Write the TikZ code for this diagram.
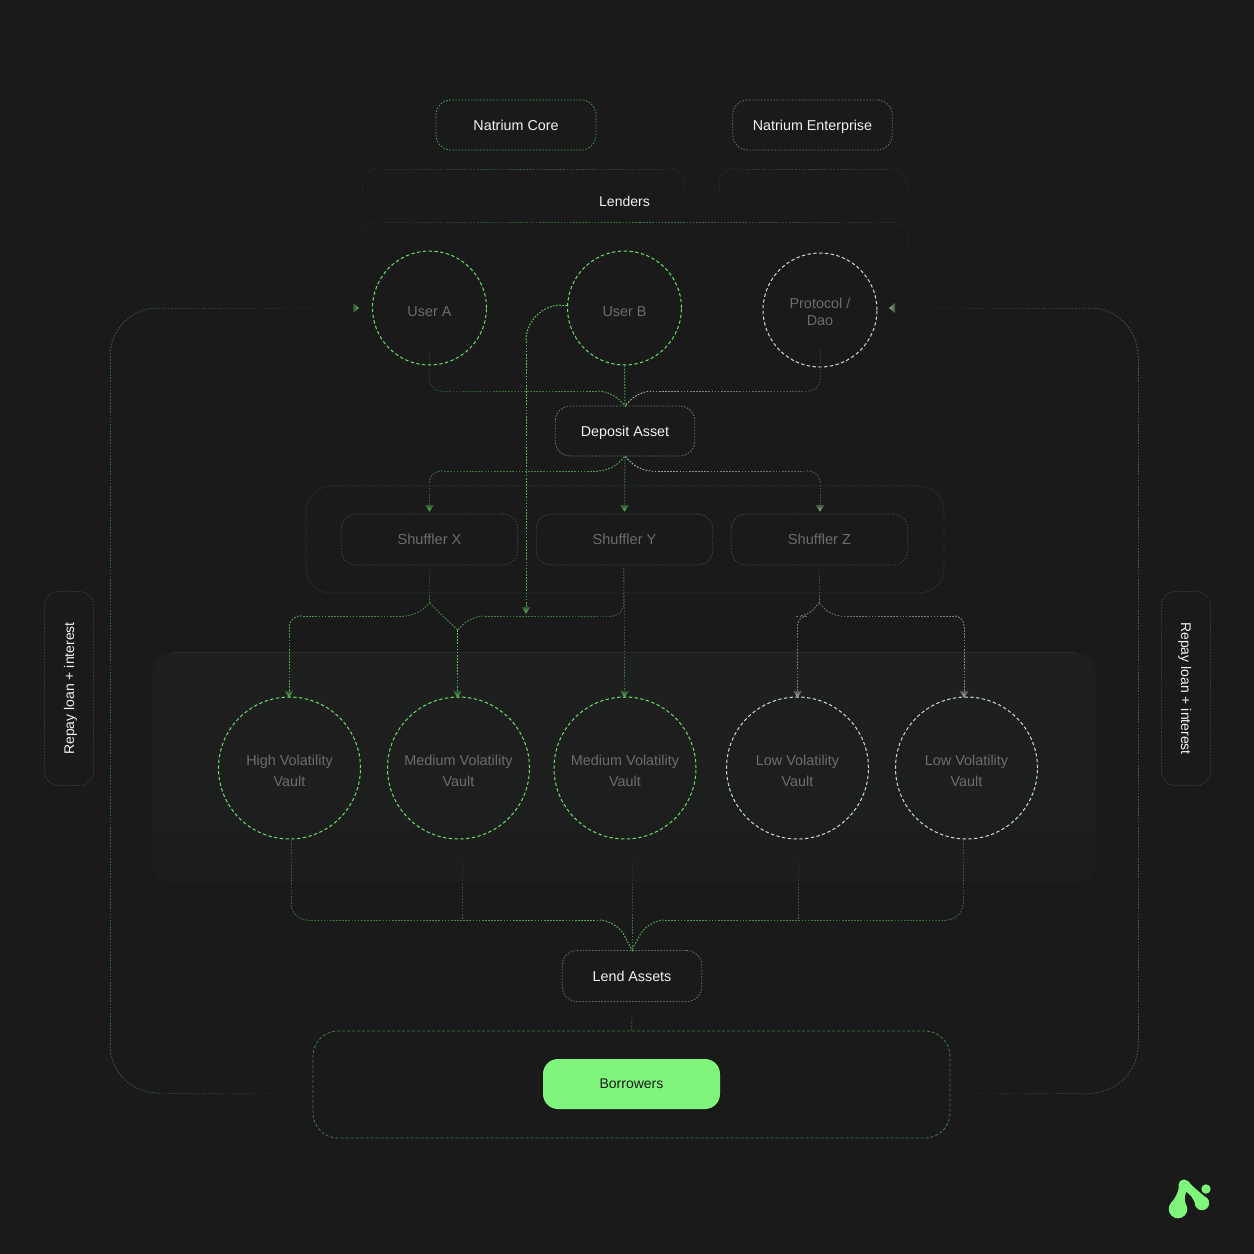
\documentclass[tikz,border=0pt]{standalone}
\usepackage{fontspec}
\setmainfont{Liberation Sans}
\usetikzlibrary{decorations.markings}
\definecolor{bgc}{HTML}{1A1A1B}
\definecolor{panelc}{HTML}{1E1F1F}
\definecolor{panelb}{HTML}{1D1D1E}
\definecolor{gr}{HTML}{66E068}
\definecolor{wh}{HTML}{D2D8D2}
\definecolor{mint}{HTML}{7FF57C}
\definecolor{titlec}{HTML}{F2F2F2}
\definecolor{dimt}{HTML}{6C6C6C}
\newcommand\lwr{\rule{0pt}{17pt}}
\tikzset{
 fc/.style n args={3}{postaction={decorate,decoration={markings,
   mark=between positions 0 and 1 step 3.1pt with {
     \pgfmathsetmacro\fcp{#1+(#2-#1)*(\pgfkeysvalueof{/pgf/decoration/mark info/distance from start}/\pgfdecoratedpathlength)}
     \draw[draw=#3!\fcp!bgc,line width=1pt] (0,0)--(1.7pt,0);}}}},
 boxbase/.style={rectangle,rounded corners=15pt,minimum height=50pt,inner sep=0pt,line width=.85pt,dash pattern=on 1.6pt off 1.5pt},
 titlebox/.style={boxbase,text=titlec,font=\fontsize{14.3}{17}\selectfont,text height=12pt,text depth=2pt},
 shufbox/.style={boxbase,draw=gr!13!bgc!90!white,minimum width=176.5pt,minimum height=51pt,text=dimt,font=\fontsize{14.6}{17}\selectfont,text height=12pt,text depth=2pt},
 circbase/.style={circle,inner sep=0pt,line width=1pt,dash pattern=on 3.4pt off 2.4pt,text=dimt,align=center,font=\fontsize{14.4}{17}\selectfont},
 usergr/.style={circbase,draw=gr,minimum size=114pt},
 userwh/.style={circbase,draw=wh,minimum size=114pt},
 vaultgr/.style={circbase,draw=gr,minimum size=142pt,font=\fontsize{14.4}{21}\selectfont},
 vaultwh/.style={circbase,draw=wh,minimum size=142pt,font=\fontsize{14.4}{21}\selectfont},
 repaybox/.style={boxbase,draw=gr!10!bgc!92!white,minimum width=194pt,minimum height=49pt,rounded corners=14pt,text=titlec,font=\fontsize{14}{17}\selectfont,text height=12pt,text depth=2pt},
 groupbox/.style={rectangle,rounded corners=25pt,inner sep=0pt,line width=.85pt},
}
\newcommand\hdD[2]{\shade[shift={(#1)},top color=#2!28!bgc,bottom color=#2!90!bgc] (-4.5,-6) -- (4.5,-6) -- (0,0.5) -- cycle;}
\begin{document}
\begin{tikzpicture}[x=1pt,y=-1pt]
\useasboundingbox (0,0) rectangle (1254,1254);
\fill[bgc] (0,0) rectangle (1254,1254);
% vault panel
\node[rectangle,rounded corners=20pt,top color=panelc,bottom color=panelb,minimum width=944pt,minimum height=229pt,inner sep=0pt] (panel) at (624,767.5) {};
\draw[panelc!95!white,line width=.7pt] ([xshift=20pt]panel.north west) -- ([xshift=-20pt]panel.north east);

% top boxes
\node[titlebox,draw=gr!62!bgc,minimum width=160pt] (core) at (516,125) {Natrium Core};
\node[titlebox,draw=wh!42!bgc,minimum width=159.5pt] (ent) at (812.5,125) {Natrium Enterprise};
\node[font=\fontsize{14}{17}\selectfont,text=titlec,text height=12pt,text depth=2pt] (lend) at (624.5,201.5) {Lenders};

% lenders brackets
\coordinate (a1) at (362,197); \coordinate (a2) at (520,169); \coordinate (a3) at (684,194);
\coordinate (b1) at (719,192); \coordinate (b2) at (812,169); \coordinate (b3) at (907,194);
\coordinate (c1) at (362,250); \coordinate (c2) at (640,222); \coordinate (c3) at (907,250);
\path[rounded corners=15pt,fc={5}{30}{gr}] (a1) |- (a2);
\path[rounded corners=15pt,fc={30}{6}{gr!50!wh}] (a2) -| (a3);
\path[rounded corners=15pt,fc={6}{22}{wh}] (b1) |- (b2);
\path[rounded corners=15pt,fc={22}{5}{wh}] (b2) -| (b3);
\path[rounded corners=15pt,fc={5}{45}{gr}] (c1) |- (c2);
\path[rounded corners=15pt,fc={45}{5}{gr!70!wh}] (c2) -| (c3);

% users
\node[usergr] (ua) at (429.5,308) {\lwr User A};
\node[usergr] (ub) at (624.5,308) {\lwr User B};
\node[userwh] (pr) at (820,310) {\rule{0pt}{15pt}Protocol /\\Dao};

% deposit
\node[titlebox,draw=wh!45!bgc,minimum width=139.5pt] (dep) at (625,431) {Deposit Asset};

% shuffler group and boxes
\node[groupbox,draw=gr!9!bgc!93!white,dash pattern=on 1.6pt off 1.6pt,minimum width=638pt,minimum height=107pt] (sgroup) at (625,539.5) {};
\node[shufbox] (sx) at (429.5,539.5) {Shuffler X};
\node[shufbox] (sy) at (624.5,539.5) {Shuffler Y};
\node[shufbox] (sz) at (819.5,539.5) {Shuffler Z};

% vaults
\node[vaultgr] (v1) at (289.5,768) {\lwr High Volatility\\Vault};
\node[vaultgr] (v2) at (458.5,768) {\lwr Medium Volatility\\Vault};
\node[vaultgr] (v3) at (625,768) {\lwr Medium Volatility\\Vault};
\node[vaultwh] (v4) at (797.5,768) {\lwr Low Volatility\\Vault};
\node[vaultwh] (v5) at (966.5,768) {\lwr Low Volatility\\Vault};

% lend + borrowers
\node[titlebox,draw=wh!42!bgc,minimum width=139.5pt,minimum height=51pt] (la) at (632,976) {\raisebox{-.7pt}{Lend Assets}};
\node[groupbox,draw=gr!48!bgc,dash pattern=on 3pt off 2pt,minimum width=637pt,minimum height=107pt] (bgroup) at (631.5,1084.5) {};
\node[rectangle,rounded corners=15pt,fill=mint,minimum width=177pt,minimum height=50pt,inner sep=0pt,text=bgc,font=\fontsize{14}{17}\selectfont,text height=12pt,text depth=2pt] (bor) at (631.5,1084) {\raisebox{1pt}{Borrowers}};

% repay
\node[repaybox,rotate=90] (rl) at (69,688.5) {Repay loan + interest};
\node[repaybox,rotate=-90] (rr) at (1186,688.5) {Repay loan + interest};

% outer loops
\coordinate (hl) at (359,308); \coordinate (hr) at (889,308);
\coordinate (ll) at (312,1093); \coordinate (lr) at (938,1093);
\coordinate (lb) at (110,1030); \coordinate (lt) at (110,370);
\coordinate (rb) at (1138,1030); \coordinate (rt) at (1138,370);
\path[rounded corners=48pt,fc={0}{36}{gr}] (ll) -| (lb);
\path[fc={36}{36}{gr}] (lb) -- (lt);
\path[rounded corners=48pt,fc={36}{0}{gr}] (lt) |- (hl);
\path[rounded corners=48pt,fc={0}{34}{gr!75!wh}] (lr) -| (rb);
\path[fc={34}{34}{gr!75!wh}] (rb) -- (rt);
\path[rounded corners=48pt,fc={34}{0}{gr!75!wh}] (rt) |- (hr);
\shade[left color=gr!25!bgc,right color=gr!90!bgc] (hl) -- ++(-6,-5) -- ++(0,10) -- cycle;
\shade[right color=wh!25!bgc,left color=gr!40!wh!75!bgc] (hr) -- ++(6,-5) -- ++(0,10) -- cycle;

% users -> deposit
\path[rounded corners=12pt,fc={12}{72}{gr}] (429.5,350) coordinate (ua0) |- (610,391) -- (dep.north);
\path[fc={65}{65}{gr}] (ub.south) -- (dep.north);
\path[rounded corners=12pt,fc={12}{80}{wh}] (820,350) coordinate (pr0) |- (640,391) -- (dep.north);

% user B to vault junction
\coordinate (jn) at (526,613);
\path[rounded corners=36pt,fc={85}{70}{gr}] (ub.west |- 0,305) -- (526,305) -- (jn);
\hdD{jn}{gr}

% deposit -> shufflers
\coordinate (hx) at (429.5,511); \coordinate (hy) at (624.5,511); \coordinate (hz) at (820,511);
\path[rounded corners=12pt,fc={30}{70}{gr}] (hx) |- (610,471) -- (dep.south);
\path[fc={55}{25}{gr}] (dep.south) -- (hy);
\path[rounded corners=12pt,fc={22}{80}{wh}] (hz) |- (640,471) -- (dep.south);
\hdD{hx}{gr}\hdD{hy}{gr}\hdD{hz}{gr!45!wh}

% shufflers -> vaults
\coordinate (h1) at (289,697); \coordinate (h2) at (457.5,697); \coordinate (h3) at (624.5,697);
\coordinate (h4) at (797.5,697); \coordinate (h5) at (964,697);
\coordinate (m2) at (457.5,630);
\path[fc={10}{45}{gr}] (429.5,570) coordinate (sx0) -- (429.5,603) coordinate (sxj);
\path[fc={10}{45}{wh}] (819,570) coordinate (sz0) -- (819,603) coordinate (szj);
\path[rounded corners=12pt,fc={75}{45}{gr}] (h1) |- (416,616) -- (sxj);
\path[rounded corners=9pt,fc={45}{65}{gr}] (sxj) -- (443,616) -- (m2);
\path[fc={90}{70}{gr}] (m2) -- (h2);
\path[rounded corners=12pt,fc={25}{55}{gr!85!wh}] (623.5,568) coordinate (sy0) |- (472,616) -- (m2);
\path[fc={12}{50}{gr}] (624.5,570) -- (h3);
\path[rounded corners=10pt,fc={55}{45}{wh}] (h4) |- (808,616) -- (szj);
\path[rounded corners=10pt,fc={60}{45}{wh}] (h5) |- (832,616) -- (szj);
\hdD{h1}{gr}\hdD{h2}{gr}\hdD{h3}{gr}\hdD{h4}{wh}\hdD{h5}{wh}

% vaults -> lend
\path[rounded corners=17pt,fc={30}{80}{gr}] (291,840) coordinate (v1o) |- (616,920) -- (la.north);
\path[rounded corners=17pt,fc={30}{70}{gr}] (963,840) coordinate (v5o) |- (648,920) -- (la.north);
\path[fc={5}{40}{gr}] (462,858) coordinate (v2o) -- (462,920);
\path[fc={5}{60}{gr}] (632,858) coordinate (v3o) -- (la.north);
\path[fc={5}{50}{gr}] (798,858) coordinate (v4o) -- (798,920);
\path[fc={5}{40}{gr}] (632,1010) coordinate (lao) -- (bgroup.north);

% logo
\fill[mint] (1178,1209) circle (9.3) (1184,1185) circle (5.6) (1202,1203) circle (7.2) (1206,1189) circle (4.7);
\fill[mint] (1179,1186) .. controls (1178,1193) and (1176,1197) .. (1171,1203) -- (1186,1205) .. controls (1184,1199) and (1184,1194) .. (1188.5,1189) -- cycle;
\fill[mint] (1188,1181) .. controls (1192,1186) and (1196,1189) .. (1204,1196) -- (1196,1207) .. controls (1195,1200) and (1190,1193) .. (1183,1190) -- cycle;
\end{tikzpicture}
\end{document}
